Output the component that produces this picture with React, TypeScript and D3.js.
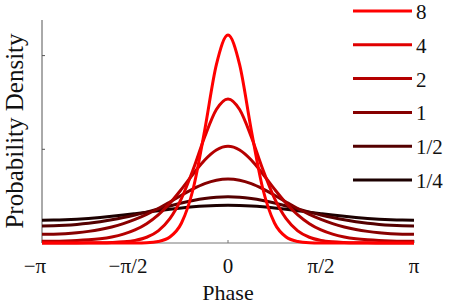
import React from "react";
import * as d3 from "d3";

const phase = [
  -3.1416, -2.9452, -2.7489, -2.5525, -2.3562, -2.1598, -1.9635, -1.7671, -1.5708,
  -1.3744, -1.1781, -0.9817, -0.7854, -0.589, -0.3927, -0.1963, 0,
  0.1963, 0.3927, 0.589, 0.7854, 0.9817, 1.1781, 1.3744, 1.5708,
  1.7671, 1.9635, 2.1598, 2.3562, 2.5525, 2.7489, 2.9452, 3.1416,
];

const k8 = [
  0, 0, 0, 0, 0, 0, 0, 0.0001, 0.0004, 0.0018, 0.008, 0.0317, 0.1066, 0.2882, 0.6035, 0.9515, 1.1096,
  0.9515, 0.6035, 0.2882, 0.1066, 0.0317, 0.008, 0.0018, 0.0004, 0.0001, 0, 0, 0, 0, 0, 0, 0,
];
const k4 = [
  0.0003, 0.0003, 0.0004, 0.0005, 0.0008, 0.0015, 0.0031, 0.0065, 0.0141, 0.0307, 0.0651, 0.13, 0.2383, 0.3918, 0.567, 0.712, 0.7689,
  0.712, 0.567, 0.3918, 0.2383, 0.13, 0.0651, 0.0307, 0.0141, 0.0065, 0.0031, 0.0015, 0.0008, 0.0005, 0.0004, 0.0003, 0.0003,
];
const k2 = [
  0.0095, 0.0098, 0.011, 0.0132, 0.017, 0.023, 0.0325, 0.0473, 0.0698, 0.1031, 0.1501, 0.2121, 0.2872, 0.3683, 0.443, 0.4964, 0.5159,
  0.4964, 0.443, 0.3683, 0.2872, 0.2121, 0.1501, 0.1031, 0.0698, 0.0473, 0.0325, 0.023, 0.017, 0.0132, 0.011, 0.0098, 0.0095,
];
const k1 = [
  0.0462, 0.0471, 0.0499, 0.0547, 0.062, 0.0721, 0.0857, 0.1034, 0.1257, 0.1528, 0.1843, 0.2191, 0.255, 0.2887, 0.3167, 0.3352, 0.3417,
  0.3352, 0.3167, 0.2887, 0.255, 0.2191, 0.1843, 0.1528, 0.1257, 0.1034, 0.0857, 0.0721, 0.062, 0.0547, 0.0499, 0.0471, 0.0462,
];
const kHalf = [
  0.0908, 0.0916, 0.0943, 0.0988, 0.1051, 0.1134, 0.1236, 0.1357, 0.1497, 0.165, 0.1812, 0.1976, 0.2131, 0.2268, 0.2375, 0.2444, 0.2467,
  0.2444, 0.2375, 0.2268, 0.2131, 0.1976, 0.1812, 0.165, 0.1497, 0.1357, 0.1236, 0.1134, 0.1051, 0.0988, 0.0943, 0.0916, 0.0908,
];
const kQuarter = [
  0.122, 0.1226, 0.1244, 0.1273, 0.1313, 0.1364, 0.1424, 0.1492, 0.1567, 0.1645, 0.1724, 0.18, 0.187, 0.1929, 0.1974, 0.2002, 0.2012,
  0.2002, 0.1974, 0.1929, 0.187, 0.18, 0.1724, 0.1645, 0.1567, 0.1492, 0.1424, 0.1364, 0.1313, 0.1273, 0.1244, 0.1226, 0.122,
];

const seriesLabels = ["8", "4", "2", "1", "1/2", "1/4"];
const seriesValues = [k8, k4, k2, k1, kHalf, kQuarter];
const seriesColors = ["#ff0000", "#e00000", "#b40000", "#860000", "#540000", "#1c0000"];

const xTickValues = [-Math.PI, -Math.PI / 2, 0, Math.PI / 2, Math.PI];
const xTickLabels = ["\u2212\u03c0", "\u2212\u03c0/2", "0", "\u03c0/2", "\u03c0"];
const yTickValues = [0, 0.5, 1];

const W = 454;
const H = 307;

export default function App() {
  const x = d3.scaleLinear().domain([-Math.PI, Math.PI]).range([42, 414]);
  const y = d3.scaleLinear().domain([0, 1.19]).range([243, 20]);
  const line = d3
    .line<number>()
    .x((_, i) => x(phase[i]))
    .y((d) => y(d))
    .curve(d3.curveMonotoneX);

  const order = [5, 4, 3, 2, 1, 0];
  const font = "'Liberation Serif', 'Times New Roman', serif";

  return (
    <svg
      width={W}
      height={H}
      style={{ position: "absolute", left: 0, top: 0, background: "#fff" }}
      fontFamily={font}
    >
      <line x1={42} x2={42} y1={y(1.19)} y2={y(0)} stroke="#555" strokeWidth={1} />
      <line x1={x(-Math.PI)} x2={x(Math.PI)} y1={y(0)} y2={y(0)} stroke="#777" strokeWidth={1} />
      {yTickValues.map((v) => (
        <line key={"yt" + v} x1={42} x2={45} y1={y(v)} y2={y(v)} stroke="#555" strokeWidth={1} />
      ))}
      {xTickValues.map((v, i) => (
        <line key={"xt" + i} x1={x(v)} x2={x(v)} y1={y(0)} y2={y(0) - 3} stroke="#777" strokeWidth={1} />
      ))}
      {order.map((i) => (
        <path
          key={"s" + i}
          d={line(seriesValues[i]) || ""}
          fill="none"
          stroke={seriesColors[i]}
          strokeWidth={3}
          strokeLinejoin="round"
        />
      ))}
      {xTickLabels.map((t, i) => (
        <text
          key={"xl" + i}
          x={x(xTickValues[i])}
          dx={t.startsWith("\u2212") ? -7 : 0}
          y={273}
          fontSize={21}
          textAnchor="middle"
          fill="#111"
        >
          {t}
        </text>
      ))}
      <text x={228} y={300} fontSize={22} textAnchor="middle" fill="#111">
        Phase
      </text>
      <text
        transform="translate(23,131) rotate(-90)"
        fontSize={25}
        textAnchor="middle"
        fill="#111"
      >
        Probability Density
      </text>
      {seriesLabels.map((lab, i) => {
        const ly = 11 + i * 33.8;
        return (
          <g key={"lg" + i}>
            <line x1={353} x2={412} y1={ly} y2={ly} stroke={seriesColors[i]} strokeWidth={3} />
            <text x={416} y={ly + 8} fontSize={21} fill="#111">
              {lab}
            </text>
          </g>
        );
      })}
    </svg>
  );
}
